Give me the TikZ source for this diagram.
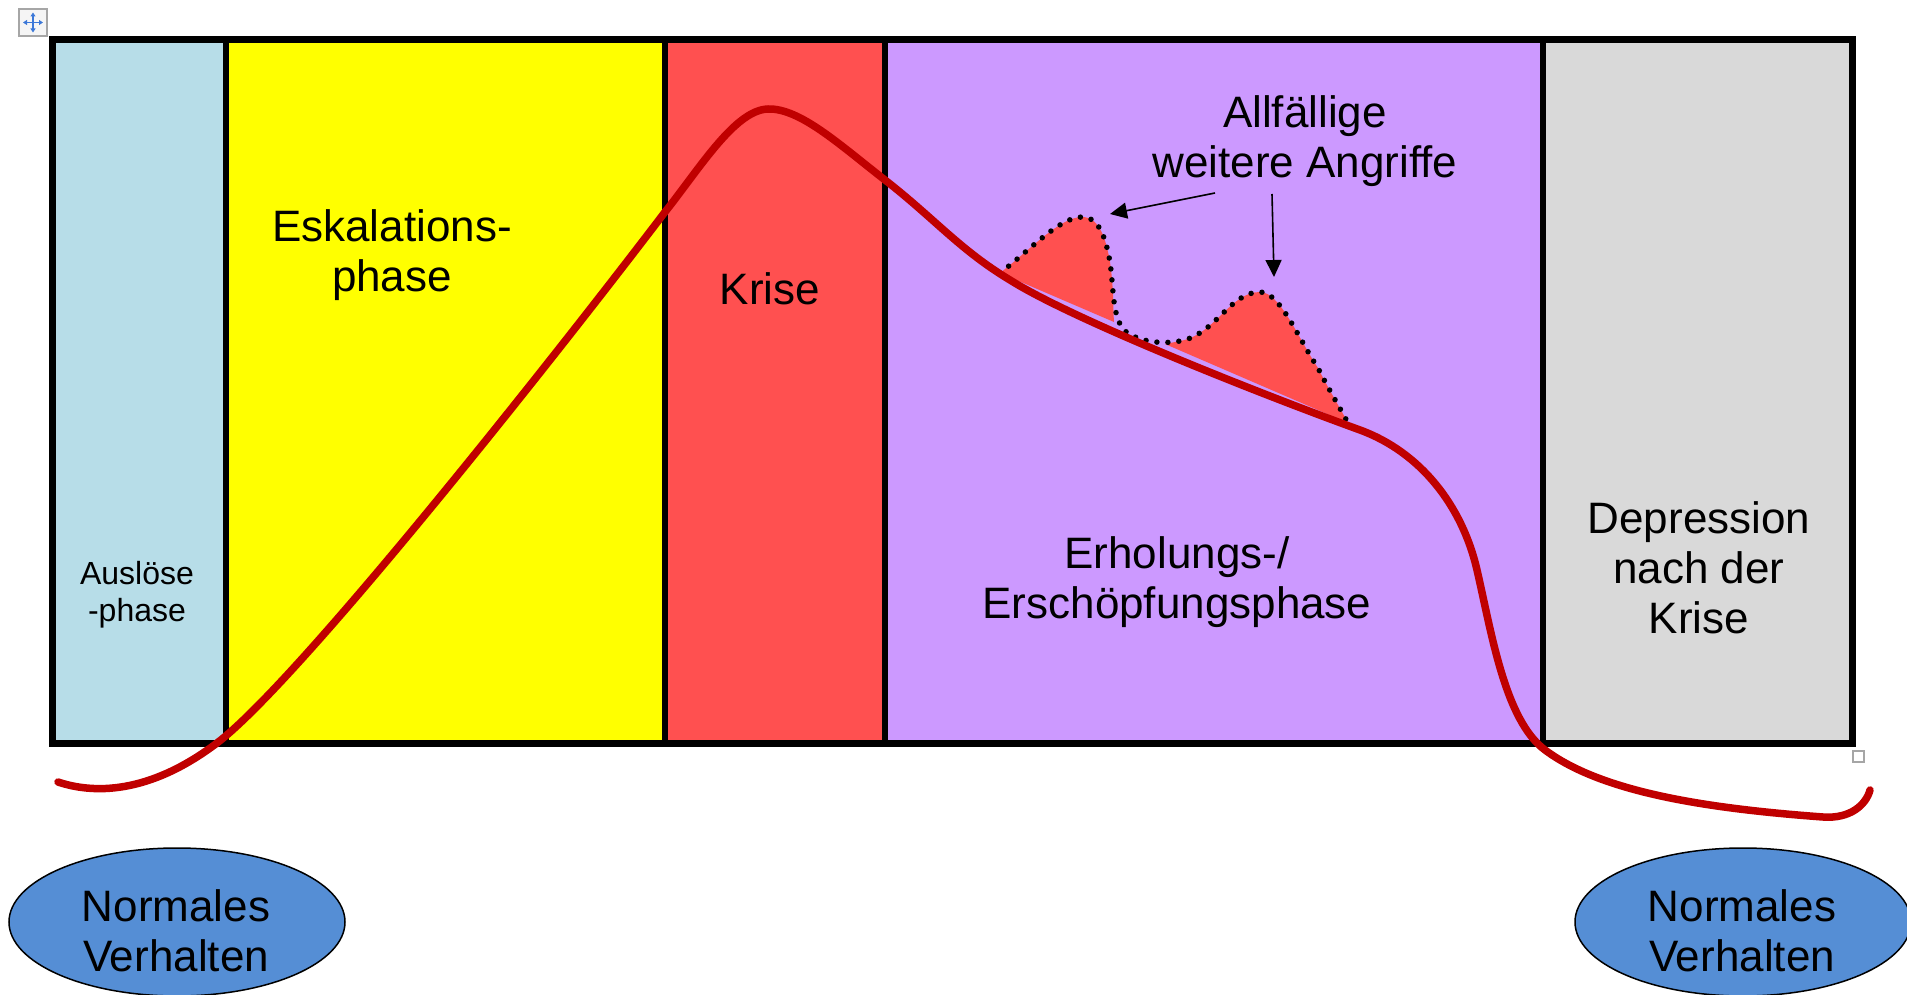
\documentclass[tikz,border=0pt]{standalone}
\usepackage{fontspec}
\setmainfont{Liberation Sans}
\usetikzlibrary{arrows.meta,shapes.geometric}
\definecolor{cblue}{HTML}{B7DDE8}
\definecolor{cyellow}{HTML}{FFFF00}
\definecolor{cred}{HTML}{FF5050}
\definecolor{cpurple}{HTML}{CC99FF}
\definecolor{cgray}{HTML}{D9D9D9}
\definecolor{ccurve}{HTML}{C00000}
\definecolor{cell}{HTML}{558ED5}
\definecolor{iconblue}{HTML}{3C78D8}
\begin{document}
\begin{tikzpicture}[x=1pt,y=-1pt,
  lbl/.style={font=\fontsize{44}{50}\selectfont, align=center, inner sep=0pt},
  smalllbl/.style={font=\fontsize{32}{37}\selectfont, align=center, inner sep=0pt},
  divider/.style={line width=6pt},
  frame/.style={line width=7pt},
  maincurve/.style={ccurve, line width=7.5pt, line cap=round, line join=round},
  dotline/.style={line width=5.5pt, dash pattern=on 0pt off 11pt, line cap=round},
  callout/.style={line width=1.6pt, -{Triangle[length=17pt,width=16pt]}},
  oval/.style={ellipse, draw=black, line width=1.5pt, fill=cell, minimum width=336pt, minimum height=148pt, inner sep=0pt}]
\useasboundingbox (0,0) rectangle (1907,995);
% columns
\fill[cblue] (52,40) rectangle (226,743);
\fill[cyellow] (226,40) rectangle (665,743);
\fill[cred] (665,40) rectangle (885,743);
\fill[cpurple] (885,40) rectangle (1543,743);
\fill[cgray] (1543,40) rectangle (1852,743);
\draw[divider] (226,40) -- (226,743);
\draw[divider] (665,40) -- (665,743);
\draw[divider] (885,40) -- (885,743);
\draw[divider] (1543,40) -- (1543,743);
\draw[frame] (52,40) rectangle (1852,743);
% attack bumps
\fill[cred] (1000,273) .. controls (1030,250) and (1060,217) .. (1082,217)
  .. controls (1100,217) and (1106,240) .. (1110,262)
  .. controls (1114,290) and (1113,310) .. (1114,322) -- cycle;
\fill[cred] (1165,344) -- (1180,341) .. controls (1215,335) and (1230,292) .. (1260,292)
  .. controls (1280,292) and (1298,338) .. (1318,368)
  .. controls (1328,388) and (1340,408) .. (1348,423) -- cycle;
\draw[dotline] (1000,273) .. controls (1030,250) and (1060,217) .. (1082,217)
  .. controls (1100,217) and (1106,240) .. (1110,262)
  .. controls (1114,290) and (1112,318) .. (1125,331)
  .. controls (1140,343) and (1165,344) .. (1180,341)
  .. controls (1215,335) and (1230,292) .. (1260,292)
  .. controls (1280,292) and (1298,338) .. (1318,368)
  .. controls (1328,388) and (1340,408) .. (1348,423);
% main curve
\draw[maincurve] (58,782)
  .. controls (100,796) and (155,790) .. (217,743)
  .. controls (300,680) and (560,350) .. (665,212)
  .. controls (700,168) and (735,110) .. (768,109)
  .. controls (800,108) and (840,145) .. (885,180)
  .. controls (935,219) and (960,250) .. (1010,280)
  .. controls (1070,318) and (1250,390) .. (1360,430)
  .. controls (1420,452) and (1462,505) .. (1477,570)
  .. controls (1492,635) and (1505,720) .. (1545,750)
  .. controls (1600,791) and (1700,808) .. (1823,817)
  .. controls (1850,819) and (1866,805) .. (1870,790);
% labels
\node[smalllbl] (ausl) at (137,595) {Auslöse\\-phase};
\node[lbl] (eskal) at (392,255) {Eskalations-\\phase};
\node[lbl] (krise) at (770,289) {Krise};
\node[lbl] (angr) at (1305,141) {Allfällige\\weitere Angriffe};
\node[lbl] (erhol) at (1177,582) {Erholungs-/\\Erschöpfungsphase};
\node[lbl] (depr) at (1699,568) {Depression\\nach der\\Krise};
% callout arrows
\coordinate (a1s) at (1215,193);
\coordinate (a1e) at (1110,214);
\coordinate (a2s) at (1272,194);
\coordinate (a2e) at (1274,277);
\draw[callout] (a1s) -- (a1e);
\draw[callout] (a2s) -- (a2e);
% ovals
\node[oval] (normL) at (177,922) {};
\node[lbl] (normLt) at (176,931) {Normales\\Verhalten};
\node[oval] (normR) at (1743,922) {};
\node[lbl] (normRt) at (1742,931) {Normales\\Verhalten};
% UI artefacts
\draw[gray!70, line width=1.5pt, fill=gray!8] (19,9) rectangle (47,36);
\draw[iconblue, line width=1.6pt, {Triangle[length=4pt,width=5pt]}-{Triangle[length=4pt,width=5pt]}] (23,22.5) -- (43,22.5);
\draw[iconblue, line width=1.6pt, {Triangle[length=4pt,width=5pt]}-{Triangle[length=4pt,width=5pt]}] (33,12.5) -- (33,32.5);
\draw[gray!70, line width=1.3pt, fill=white] (1853,751) rectangle (1864,762);
\end{tikzpicture}
\end{document}
